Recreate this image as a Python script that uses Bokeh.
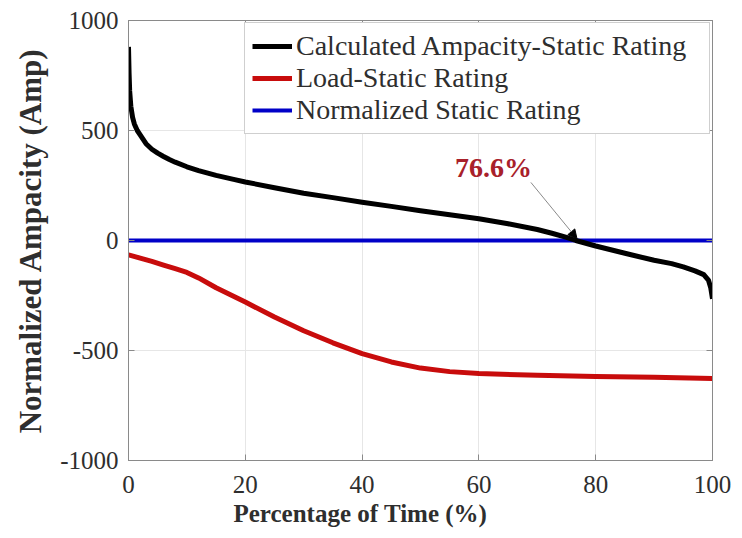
from bokeh.plotting import figure
from bokeh.models import (Range1d, LinearAxis, FixedTicker, Legend, LegendItem,
                          Label, Arrow, NormalHead, Title)
from bokeh.embed import file_html
from bokeh.resources import INLINE

# ---------------- data ----------------
calc_x = [0, 0.1, 0.2, 0.4, 0.7, 1.0, 1.5, 2, 3, 4, 5, 6, 7, 8, 10, 12, 15, 18, 20,
          25, 30, 35, 40, 45, 50, 55, 60, 65, 70, 72.5, 75, 76.6, 80, 85, 90, 93,
          95, 97, 98.5, 99.3, 99.7, 100]
calc_y = [880, 760, 680, 610, 560, 530, 500, 480, 440, 415, 397, 382, 368, 356, 335,
          318, 296, 278, 266, 240, 215, 195, 174, 155, 135, 117, 99, 76, 50, 33, 14,
          0, -25, -58, -90, -105, -120, -138, -155, -180, -215, -265]

load_x = [0, 2, 4, 6, 8, 10, 12, 15, 20, 25, 30, 35, 40, 45, 50, 55, 60, 70, 80, 90, 100]
load_y = [-65, -80, -95, -112, -128, -145, -170, -215, -280, -348, -410, -465, -514,
          -552, -580, -596, -605, -613, -618, -622, -627]

static_x = [0, 100]
static_y = [0, 0]

series_names = ["Calculated Ampacity-Static Rating", "Load-Static Rating",
                "Normalized Static Rating"]

x_ticks = [0, 20, 40, 60, 80, 100]
x_tick_labels = ["0", "20", "40", "60", "80", "100"]
y_ticks = [-1000, -500, 0, 500, 1000]
y_tick_labels = ["-1000", "-500", "0", "500", "1000"]

crossing_text = "76.6%"
crossing_text_pos = (62.5, 330)
arrow_start = (68.9, 264)
arrow_end = (76.8, 8)

x_label = "Percentage of Time (%)"
y_label = "Normalized Ampacity (Amp)"

# ---------------- styles ----------------
FONT = "Liberation Serif"
AXIS_GREY = "#8a8a8a"
TEXT_COL = "#2e2e2e"

p = figure(width=734, height=538, output_backend="svg", toolbar_location=None,
           x_range=Range1d(0, 100), y_range=Range1d(-1000, 1000),
           min_border_left=128, min_border_right=22, min_border_top=20,
           min_border_bottom=78)
p.background_fill_color = "white"
p.border_fill_color = "white"
p.outline_line_color = AXIS_GREY
p.outline_line_width = 1

for ax, ticks, labels in ((p.xaxis[0], x_ticks, x_tick_labels),
                          (p.yaxis[0], y_ticks, y_tick_labels)):
    ax.ticker = FixedTicker(ticks=ticks)
    ax.major_label_overrides = {t: l for t, l in zip(ticks, labels)}
    ax.major_label_text_font = FONT
    ax.major_label_text_font_size = "25px"
    ax.major_label_text_color = TEXT_COL
    ax.axis_line_color = AXIS_GREY
    ax.major_tick_line_color = AXIS_GREY
    ax.major_tick_in = 6
    ax.major_tick_out = 0
    ax.minor_tick_line_color = None
    ax.axis_label_text_font = FONT
    ax.axis_label_text_font_style = "bold"
    ax.axis_label_text_color = TEXT_COL

p.xaxis[0].major_label_standoff = 15
p.yaxis[0].major_label_standoff = 10
p.yaxis[0].axis_label = y_label
p.yaxis[0].axis_label_text_font_size = "31px"
p.yaxis[0].axis_label_standoff = 9

# box-style top and right axes (ticks only, empty labels)
def tick_only_axis(ticks):
    return LinearAxis(ticker=FixedTicker(ticks=ticks),
                      major_label_overrides={t: "" for t in ticks},
                      major_label_text_font_size="1px", major_label_standoff=0,
                      major_tick_in=6, major_tick_out=0, minor_tick_line_color=None,
                      axis_line_color=AXIS_GREY, major_tick_line_color=AXIS_GREY)

p.add_layout(tick_only_axis(x_ticks), "above")
p.add_layout(tick_only_axis(y_ticks), "right")

p.xgrid.ticker = FixedTicker(ticks=x_ticks)
p.ygrid.ticker = FixedTicker(ticks=y_ticks)
p.xgrid.grid_line_color = "#e6e6e6"
p.ygrid.grid_line_color = "#e6e6e6"

r_static = p.line(static_x, static_y, line_color="#0000c8", line_width=4)
r_load = p.line(load_x, load_y, line_color="#c80c0c", line_width=5, line_join="round")
r_calc = p.line(calc_x, calc_y, line_color="black", line_width=5, line_join="round")

legend = Legend(items=[LegendItem(label=series_names[0], renderers=[r_calc]),
                       LegendItem(label=series_names[1], renderers=[r_load]),
                       LegendItem(label=series_names[2], renderers=[r_static])],
                location="top_right", margin=2, padding=7, spacing=0,
                label_standoff=4, glyph_width=40, glyph_height=32, label_height=32,
                label_width=406,
                label_text_font=FONT, label_text_font_size="28px",
                label_text_color=TEXT_COL, border_line_color="#a0a0a0",
                border_line_width=1, background_fill_color="white",
                background_fill_alpha=1)
p.add_layout(legend)

p.add_layout(Arrow(end=NormalHead(size=9, fill_color="black", line_color="black"),
                   x_start=arrow_start[0], y_start=arrow_start[1],
                   x_end=arrow_end[0], y_end=arrow_end[1],
                   line_color="#8a8a8a", line_width=1))
p.add_layout(Label(x=crossing_text_pos[0], y=crossing_text_pos[1], text=crossing_text,
                   text_align="center", text_baseline="middle", text_font=FONT,
                   text_font_style="bold", text_font_size="28px",
                   text_color="#a8202a"))

# x-axis title, placed off-centre like the reference
p.add_layout(Title(text=x_label, align="left", offset=105, standoff=5,
                   text_font=FONT, text_font_style="bold", text_font_size="25px",
                   text_color=TEXT_COL), "below")

open("out.html", "w").write(file_html(p, INLINE))
